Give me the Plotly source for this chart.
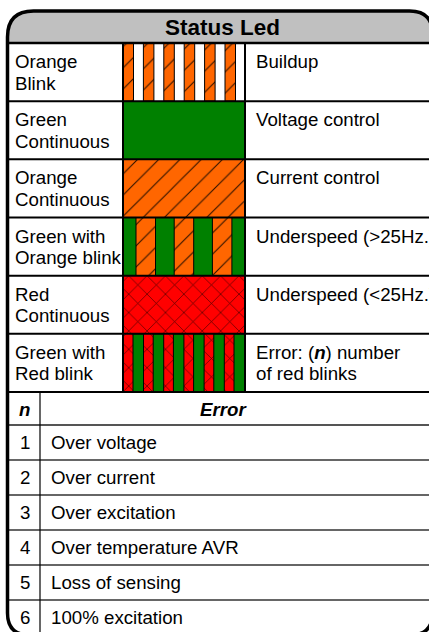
import plotly.graph_objects as go

# table content
title = "Status Led"
led_names = ["Orange\nBlink", "Green\nContinuous", "Orange\nContinuous",
             "Green with\nOrange blink", "Red\nContinuous", "Green with\nRed blink"]
led_meaning = ["Buildup", "Voltage control", "Current control",
               "Underspeed (>25Hz.)", "Underspeed (<25Hz.)",
               "Error: (<b><i>n</i></b>) number\nof red blinks"]
led_base = ["white", "green", "orange", "green", "red", "red"]
led_blink = ["orange", None, None, "orange", None, "green"]
blink_count = [6, 0, 0, 3, 0, 6]

error_head = ["n", "Error"]
error_n = [1, 2, 3, 4, 5, 6]
error_text = ["Over voltage", "Over current", "Over excitation",
              "Over temperature AVR", "Loss of sensing", "100% excitation"]

# geometry (pixels, y downwards)
W, H = 429, 632
X0, X1, Y0, Y1 = 7.5, 432.5, 11, 635
HEAD_Y = 43
COL1, COL2, NCOL = 123, 245, 40
TOP_END = 392
LOW_HEAD = 425
ROW_H = (TOP_END - HEAD_Y) / len(led_names)
LOW_H = (Y1 - LOW_HEAD) / len(error_n)

FONT = "Liberation Sans, Arial, sans-serif"
FS = 18.7
FILLS = {
    "white": dict(color="white"),
    "green": dict(color="#008000"),
    "orange": dict(color="#FF6600",
                   pattern=dict(shape="/", size=15, solidity=0.07, fgcolor="#2a1000")),
    "red": dict(color="#FF0000",
                pattern=dict(shape="x", size=13, solidity=0.1, fgcolor="#4a0000")),
}
# stripe offset, period, width for blinking rows
STRIPES = {0: (0, 20.4, 10.5), 3: (13, 38.2, 19.5), 5: (10, 20.2, 10.5)}

fig = go.Figure()
shapes = []
annotations = []


def add_fill(boxes, y0, y1, fill, outline):
    if "pattern" not in fill and not outline:
        for a, b in boxes:
            shapes.append(dict(type="rect", x0=a, y0=y0, x1=b, y1=y1, layer="below",
                               line=dict(width=0), fillcolor=fill["color"]))
        return
    xs, ys = [], []
    for a, b in boxes:
        xs += [a, b, b, a, a, None]
        ys += [y0, y0, y1, y1, y0, None]
    kw = dict(x=xs, y=ys, mode="lines", hoverinfo="skip", showlegend=False,
              fill="toself", fillcolor=fill["color"],
              line=dict(color="black", width=1 if outline else 0))
    if "pattern" in fill:
        p = fill["pattern"]
        kw["fillpattern"] = dict(shape=p["shape"], size=p["size"], solidity=p["solidity"],
                                 fgcolor=p["fgcolor"], bgcolor=fill["color"], fillmode="replace")
    fig.add_trace(go.Scatter(**kw))


def text(x, y, s, size=FS, anchor="left"):
    annotations.append(dict(x=x, y=y, xref="x", yref="y", text=s, showarrow=False,
                            xanchor=anchor, yanchor="middle",
                            font=dict(family=FONT, size=size, color="black")))


# header band with rounded top
r1, r2 = 26, 23
shapes.append(dict(type="path", layer="below", fillcolor="#C0C0C0", line=dict(width=0),
                   path=f"M {X0},{HEAD_Y} L {X0},{Y0 + r1} Q {X0},{Y0} {X0 + r1},{Y0} "
                        f"L {X1 - r2},{Y0} Q {X1},{Y0} {X1},{Y0 + r2} L {X1},{HEAD_Y} Z"))
text(222, (Y0 + HEAD_Y) / 2 + 0.5, f"<b>{title}</b>", size=22.5, anchor="center")

# LED rows
for i, name in enumerate(led_names):
    top = HEAD_Y + i * ROW_H
    bot = top + ROW_H
    add_fill([(COL1, COL2)], top, bot, FILLS[led_base[i]], outline=False)
    if blink_count[i]:
        off, per, wid = STRIPES[i]
        boxes = [(COL1 + off + k * per, COL1 + off + k * per + wid) for k in range(blink_count[i])]
        add_fill(boxes, top, bot, FILLS[led_blink[i]], outline=True)
    for j, line in enumerate(name.split("\n")):
        text(12.5, top + 18.5 + j * 21.5, line)
    for j, line in enumerate(led_meaning[i].split("\n")):
        text(254, top + 18.5 + j * 21.5, line)
    if i > 0:
        shapes.append(dict(type="line", x0=X0, x1=X1, y0=top, y1=top,
                           line=dict(color="black", width=2)))

for xc in (COL1, COL2):
    shapes.append(dict(type="line", x0=xc, x1=xc, y0=HEAD_Y, y1=TOP_END,
                       line=dict(color="black", width=2)))
shapes.append(dict(type="line", x0=X0, x1=X1, y0=HEAD_Y, y1=HEAD_Y,
                   line=dict(color="black", width=2.5)))
shapes.append(dict(type="line", x0=X0, x1=X1, y0=TOP_END, y1=TOP_END,
                   line=dict(color="black", width=2)))

# error table
text((X0 + NCOL) / 2 + 1, (TOP_END + LOW_HEAD) / 2 + 1, f"<b><i>{error_head[0]}</i></b>", anchor="center")
text(223, (TOP_END + LOW_HEAD) / 2 + 1, f"<b><i>{error_head[1]}</i></b>", anchor="center")
shapes.append(dict(type="line", x0=X0, x1=X1, y0=LOW_HEAD, y1=LOW_HEAD,
                   line=dict(color="#555555", width=2)))
for i, n in enumerate(error_n):
    top = LOW_HEAD + i * LOW_H
    text((X0 + NCOL) / 2 + 1, top + LOW_H / 2, str(n), anchor="center")
    text(49, top + LOW_H / 2, error_text[i])
    if i > 0:
        shapes.append(dict(type="line", x0=X0, x1=X1, y0=top, y1=top,
                           line=dict(color="#666666", width=2)))
shapes.append(dict(type="line", x0=NCOL, x1=NCOL, y0=TOP_END, y1=Y1,
                   line=dict(color="black", width=1.2)))

# outer frame
r3 = 22
shapes.append(dict(type="path", line=dict(color="black", width=3.5),
                   path=f"M {X0 + r1},{Y0} L {X1 - r2},{Y0} Q {X1},{Y0} {X1},{Y0 + r2} "
                        f"L {X1},{Y1 - r3} Q {X1},{Y1} {X1 - r3},{Y1} L {X0 + r3},{Y1} "
                        f"Q {X0},{Y1} {X0},{Y1 - r3} L {X0},{Y0 + r1} Q {X0},{Y0} {X0 + r1},{Y0} Z"))

fig.update_layout(
    width=W, height=H, margin=dict(l=0, r=0, t=0, b=0),
    paper_bgcolor="white", plot_bgcolor="white",
    xaxis=dict(range=[0, W], visible=False, fixedrange=True),
    yaxis=dict(range=[H, 0], visible=False, fixedrange=True),
    shapes=shapes, annotations=annotations, showlegend=False,
)

fig.write_html("out.html", config={"displayModeBar": False},
               post_script="document.body.style.margin='0';document.body.style.overflow='hidden';")
